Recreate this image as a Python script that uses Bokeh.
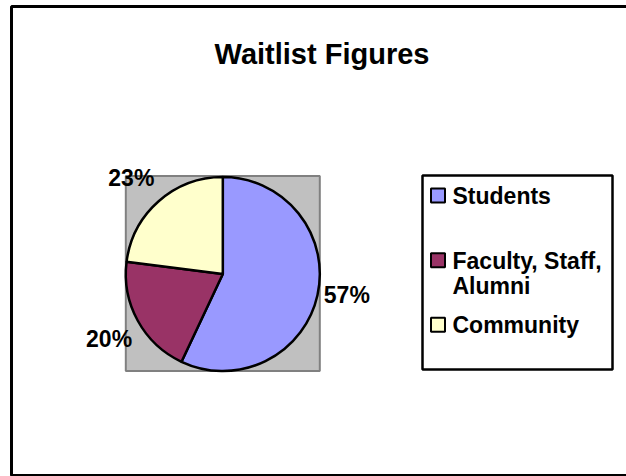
import math
from bokeh.plotting import figure
from bokeh.models import Range1d
from bokeh.core.properties import value
from bokeh.embed import file_html
from bokeh.resources import INLINE

# ---- data ----
title = "Waitlist Figures"
categories = ["Students", "Faculty, Staff, Alumni", "Community"]
legend_labels = ["Students", "Faculty, Staff,\nAlumni", "Community"]
values = [57, 20, 23]
colors = ["#9999FF", "#993366", "#FFFFCC"]

FONT = value("Liberation Sans")
W, H = 626, 476

p = figure(width=W, height=H, output_backend="svg", toolbar_location=None,
           x_range=Range1d(0, W), y_range=Range1d(0, H), min_border=0)
p.axis.visible = False
p.grid.visible = False
p.outline_line_color = None
p.background_fill_color = "white"
p.border_fill_color = "white"

def px(x):
    return x

def py(y):
    return H - y

# chart border
p.quad(left=px(11), right=px(660), top=py(6), bottom=py(475),
       fill_color=None, line_color="black", line_width=3)

# title (anchor = top of text box, ~0.19 em above cap top)
p.text(x=[px(321.5)], y=[py(37.5)], text=[title], text_font=FONT,
       text_font_size="29px", text_font_style="bold", text_align="center",
       text_baseline="top", text_color="black")

# plot area
cx, cy, R = 222.3, 273.5, 97
p.quad(left=px(cx - R), right=px(cx + R), top=py(cy - R - 1), bottom=py(cy + R),
       fill_color="#C0C0C0", line_color="#808080", line_width=2)

total = float(sum(values))
cum = 0.0
for cat, v, col in zip(categories, values, colors):
    a0 = math.pi / 2 - 2 * math.pi * cum / total
    cum += v
    a1 = math.pi / 2 - 2 * math.pi * cum / total
    p.wedge(x=[px(cx)], y=[py(cy)], radius=R, start_angle=a0, end_angle=a1,
            direction="clock", fill_color=col, line_color="black", line_width=2.5)
    # data label, outside end
    mid = (a0 + a1) / 2
    LR = R + 6.5
    lx = cx + LR * math.cos(mid)
    ly = cy - LR * math.sin(mid)
    align = "left" if math.cos(mid) > 0 else "right"
    s = math.sin(mid)
    if abs(s) < 0.35:
        base = "middle"
        ly -= 1.5
    elif s > 0:
        base = "bottom"
        ly -= 5
    else:
        base = "top"
        ly += 2
    p.text(x=[px(lx)], y=[py(ly)], text=[f"{v}%"], text_font=FONT,
           text_font_size="23px", text_font_style="bold", text_align=align,
           text_baseline=base, text_color="black")

# legend
L_left, L_right, L_top, L_bot = 422, 612, 175, 369
p.quad(left=px(L_left), right=px(L_right), top=py(L_top), bottom=py(L_bot),
       fill_color="white", line_color="black", line_width=2.5)
n = len(categories)
slot = (L_bot - L_top) / n
for i, (lab, col) in enumerate(zip(legend_labels, colors)):
    cap_top = L_top + i * slot + 12
    p.rect(x=[px(437.5)], y=[py(cap_top + 8)], width=14, height=14,
           fill_color=col, line_color="black", line_width=2)
    p.text(x=[px(452)], y=[py(cap_top - 4.5)], text=[lab], text_font=FONT,
           text_font_size="23px", text_font_style="bold", text_align="left",
           text_baseline="top", text_color="black", text_line_height=0.97)

open("out.html", "w").write(file_html(p, INLINE))
